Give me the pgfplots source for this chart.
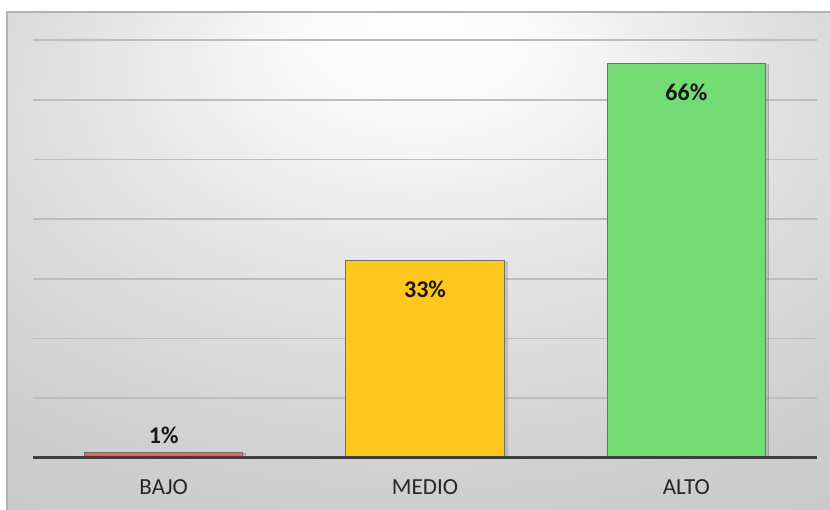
\documentclass[border=0pt]{standalone}
\usepackage{pgfplots}
\pgfplotsset{compat=1.18}
\usepackage{fontspec}
\setmainfont{Carlito}
\usetikzlibrary{shadows}
\definecolor{barred}{HTML}{FA5C5C}
\definecolor{baryel}{HTML}{FDC71E}
\definecolor{bargrn}{HTML}{74DC74}
\definecolor{bordr}{HTML}{707070}
\definecolor{gridc}{HTML}{BDBDBD}
\definecolor{axisc}{HTML}{3F3F3F}
\definecolor{txtc}{HTML}{262626}
\pgfdeclareradialshading{panel}{\pgfpoint{0bp}{25bp}}{color(0bp)=(white); color(8bp)=(gray!5); color(22bp)=(gray!24); color(36bp)=(gray!38); color(50bp)=(gray!46); color(70bp)=(gray!50)}
\begin{document}
\begin{tikzpicture}[x=1pt,y=1pt]
\useasboundingbox (0,0) rectangle (830,510);
\fill[white] (0,0) rectangle (830,510);
\shade[shading=panel] (7,0) rectangle (830,498);
\draw[gray!60, line width=1.2pt] (7,0) -- (7,498) -- (830,498);
\begin{axis}[
  at={(33pt,52pt)}, anchor=south west,
  width=784pt, height=418pt, scale only axis,
  xmin=-0.5, xmax=2.5, ymin=0, ymax=70,
  ytick={10,20,...,70}, yticklabels={},
  xtick={0,1,2}, xticklabels={BAJO,MEDIO,ALTO},
  major tick length=0pt,
  axis line style={draw=none},
  ymajorgrids, grid style={line width=1.8pt, gridc},
  xticklabel style={anchor=center, yshift=-29pt, font=\fontsize{23}{27}\selectfont, text=txtc},
  ybar, bar width=0.607,
  clip=false,
  /pgf/number format/assume math mode=true,
  nodes near coords={\pgfmathprintnumber{\pgfplotspointmeta}\%},
  every node near coord/.append style={font=\bfseries\fontsize{24}{28}\selectfont, text=black!90},
]
\addplot[bar shift=0pt, draw=bordr, line width=1pt, fill=barred,
  drop shadow={opacity=0.3, shadow xshift=3pt, shadow yshift=-1pt},
  every node near coord/.append style={anchor=center, yshift=17pt}]
  coordinates {(0,1)};
\addplot[bar shift=0pt, draw=bordr, line width=1pt, fill=baryel,
  drop shadow={opacity=0.3, shadow xshift=3pt, shadow yshift=-1pt},
  every node near coord/.append style={anchor=center, yshift=-28pt}]
  coordinates {(1,33)};
\addplot[bar shift=0pt, draw=bordr, line width=1pt, fill=bargrn,
  drop shadow={opacity=0.3, shadow xshift=3pt, shadow yshift=-1pt},
  every node near coord/.append style={anchor=center, yshift=-28pt}]
  coordinates {(2,66)};
\draw[axisc, line width=3pt] (axis cs:-0.5,0) -- (axis cs:2.5,0);
\end{axis}
\end{tikzpicture}
\end{document}
